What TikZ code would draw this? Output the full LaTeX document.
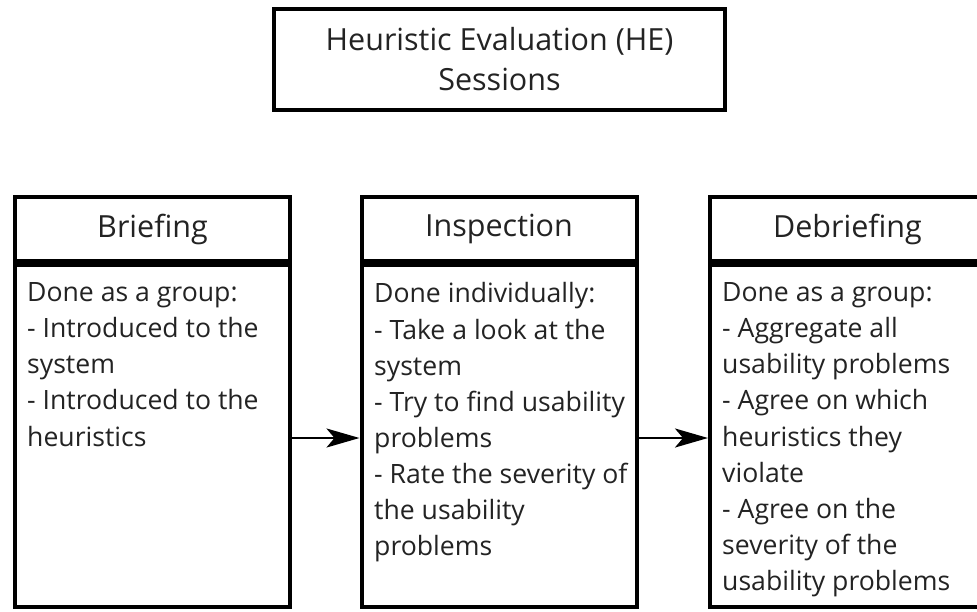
\documentclass[tikz,border=0pt]{standalone}
\usepackage{fontspec}
\setmainfont{Open Sans}
\usetikzlibrary{arrows.meta}
\definecolor{ink}{HTML}{232323}
\tikzset{
  frame/.style={draw=black, line width=4pt, fill=white},
  titlebox/.style={frame, minimum width=451pt, minimum height=101pt, inner sep=0pt,
    align=center, text=ink, font=\fontsize{30.5}{40}\selectfont},
  colhead/.style={frame, minimum width=275pt, minimum height=64pt, inner sep=0pt,
    text=ink, font=\fontsize{30.5}{36}\selectfont},
  colbody/.style={frame, minimum width=275pt, minimum height=342pt, inner sep=0pt},
  bodytext/.style={anchor=north west, align=left, inner sep=0pt, text=ink,
    font=\fontsize{26.6}{36.1}\selectfont},
  flow/.style={-{Stealth[length=33pt,width=19pt,inset=8pt]}, line width=2.4pt}
}
\begin{document}
\begin{tikzpicture}[x=1pt,y=-1pt]
  \clip (0,0) rectangle (977,611);
  \fill[white] (0,0) rectangle (977,611);

  % session title
  \node[titlebox] (title) at (499.5,59.5) {Heuristic Evaluation (HE)\\Sessions};

  % three phases: header strip over a body panel
  \node[colhead] (h1) at (152.5,229) {Briefing};
  \node[colbody] (b1) at (152.5,436) {};
  \node[colhead] (h2) at (499,229) {Inspection};
  \node[colbody] (b2) at (499,436) {};
  \node[colhead] (h3) at (847.5,229) {Debriefing};
  \node[colbody] (b3) at (847.5,436) {};

  \node[bodytext] (t1) at (27,282.5) {Done as a group:\\- Introduced to the\\system\\- Introduced to the\\heuristics};
  \node[bodytext] (t2) at (374,282.5) {Done individually:\\- Take a look at the\\system\\- Try to find usability\\problems\\- Rate the severity of\\the usability\\problems};
  \node[bodytext] (t3) at (722,282.5) {Done as a group:\\- Aggregate all\\usability problems\\- Agree on which\\heuristics they\\violate\\- Agree on the\\severity of the\\usability problems};

  % flow between phases
  \draw[flow] (b1.east |- 0,438) -- (b2.west |- 0,438);
  \draw[flow] (b2.east |- 0,438) -- (b3.west |- 0,438);
\end{tikzpicture}
\end{document}
